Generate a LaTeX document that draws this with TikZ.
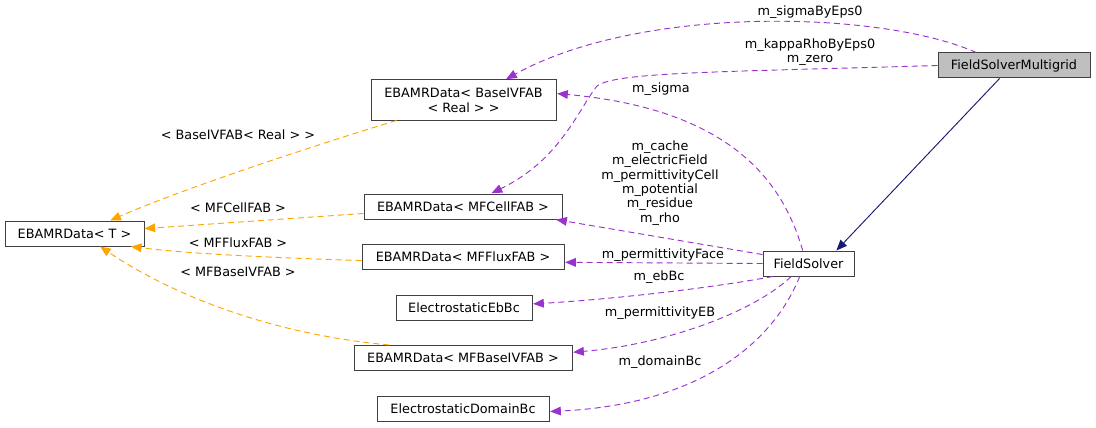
\documentclass[tikz,border=0pt]{standalone}
\usepackage{fontspec}
\setmainfont{DejaVu Sans}
\usetikzlibrary{arrows.meta}
\definecolor{mempurple}{HTML}{9A32CD}
\definecolor{tplorange}{HTML}{FFA500}
\definecolor{inhnavy}{HTML}{191970}
\definecolor{mainfill}{HTML}{BFBFBF}

\begin{document}
\begin{tikzpicture}[x=0.75pt, y=-0.75pt,
    cls/.style={draw=black!75, line width=0.75pt, fill=white, inner sep=0pt, align=center,
      minimum height=18.75pt, font=\fontsize{9.6}{11.25}\selectfont},
    lbl/.style={inner sep=0pt, align=center, font=\fontsize{9.6}{10.8}\selectfont},
    mem/.style={draw=mempurple, line width=0.7pt, dash pattern=on 4.5pt off 3pt,
      -{Triangle[length=8pt,width=6.5pt]}, shorten >=0.5pt},
    tpl/.style={draw=tplorange, line width=0.7pt, dash pattern=on 4.5pt off 3pt,
      -{Triangle[length=8pt,width=6.5pt]}},
    inh/.style={draw=inhnavy, line width=0.7pt, -{Triangle[length=8pt,width=6.5pt]}}]
  \useasboundingbox (0,0) rectangle (1096,428);

  % classes
  \node[cls, fill=mainfill, minimum width=114pt] (fsm) at (1014,65.5) {FieldSolverMultigrid};
  \node[cls, minimum width=68.25pt] (fs) at (808.5,263.5) {FieldSolver};
  \node[cls, minimum width=138.75pt, minimum height=30pt] (bivfab) at (463.5,100) {EBAMRData< BaseIVFAB\\< Real > >};
  \node[cls, minimum width=104.25pt] (tdata) at (74.5,233.5) {EBAMRData< T >};
  \node[cls, minimum width=148.5pt] (cell) at (463,206.5) {EBAMRData< MFCellFAB >};
  \node[cls, minimum width=151.5pt] (flux) at (463,257) {EBAMRData< MFFluxFAB >};
  \node[cls, minimum width=102pt] (ebbc) at (464,307.5) {ElectrostaticEbBc};
  \node[cls, minimum width=163.5pt] (mfbivfab) at (463,358) {EBAMRData< MFBaseIVFAB >};
  \node[cls, minimum width=129pt] (dombc) at (463,408.5) {ElectrostaticDomainBc};

  % inheritance
  \draw[inh] (fsm.222) -- (fs.25);

  % members of FieldSolverMultigrid
  \draw[mem] (fsm.161) .. controls (880,10) and (640,5) .. (bivfab.26);
  \draw[mem] (fsm.west) .. controls (720,72) and (615,72) .. (597,86)
    .. controls (578,110) and (560,160) .. (cell.25);

  % members of FieldSolver
  \draw[mem] (fs.114) .. controls (785,190) and (740,110) .. (bivfab.4);
  \draw[mem] (fs.169) -- (cell.-8);
  \draw[mem] (fs.west) -- (flux.-3);
  \draw[mem] (fs.200) .. controls (700,290) and (600,300) .. (ebbc.3);
  \draw[mem] (fs.217) .. controls (750,315) and (660,345) .. (mfbivfab.3);
  \draw[mem] (fs.236) .. controls (770,350) and (690,405) .. (dombc.-2);

  % template instances
  \draw[tpl] (bivfab.197) .. controls (300,150) and (180,190) .. (tdata.20);
  \draw[tpl] (cell.184) -- (tdata.4);
  \draw[tpl] (flux.182) .. controls (280,258) and (190,254) .. (tdata.-13);
  \draw[tpl] (mfbivfab.170) .. controls (280,335) and (180,300) .. (tdata.-27);

  % labels
  \node[lbl] (lsigeps) at (810,12) {m\_sigmaByEps0};
  \node[lbl] (lkappa) at (810,52) {m\_kappaRhoByEps0\\m\_zero};
  \node[lbl] (lsigma) at (661,89) {m\_sigma};
  \node[lbl] (lcell) at (660,183) {m\_cache\\m\_electricField\\m\_permittivityCell\\m\_potential\\m\_residue\\m\_rho};
  \node[lbl] (lface) at (663,255) {m\_permittivityFace};
  \node[lbl] (lebbc) at (659,277) {m\_ebBc};
  \node[lbl] (lpermeb) at (660,313) {m\_permittivityEB};
  \node[lbl] (ldombc) at (660,362) {m\_domainBc};
  \node[lbl] (tbivfab) at (238,135) {< BaseIVFAB< Real > >};
  \node[lbl] (tcell) at (238,208) {< MFCellFAB >};
  \node[lbl] (tflux) at (238,243) {< MFFluxFAB >};
  \node[lbl] (tmfbivfab) at (238,272) {< MFBaseIVFAB >};
\end{tikzpicture}
\end{document}
